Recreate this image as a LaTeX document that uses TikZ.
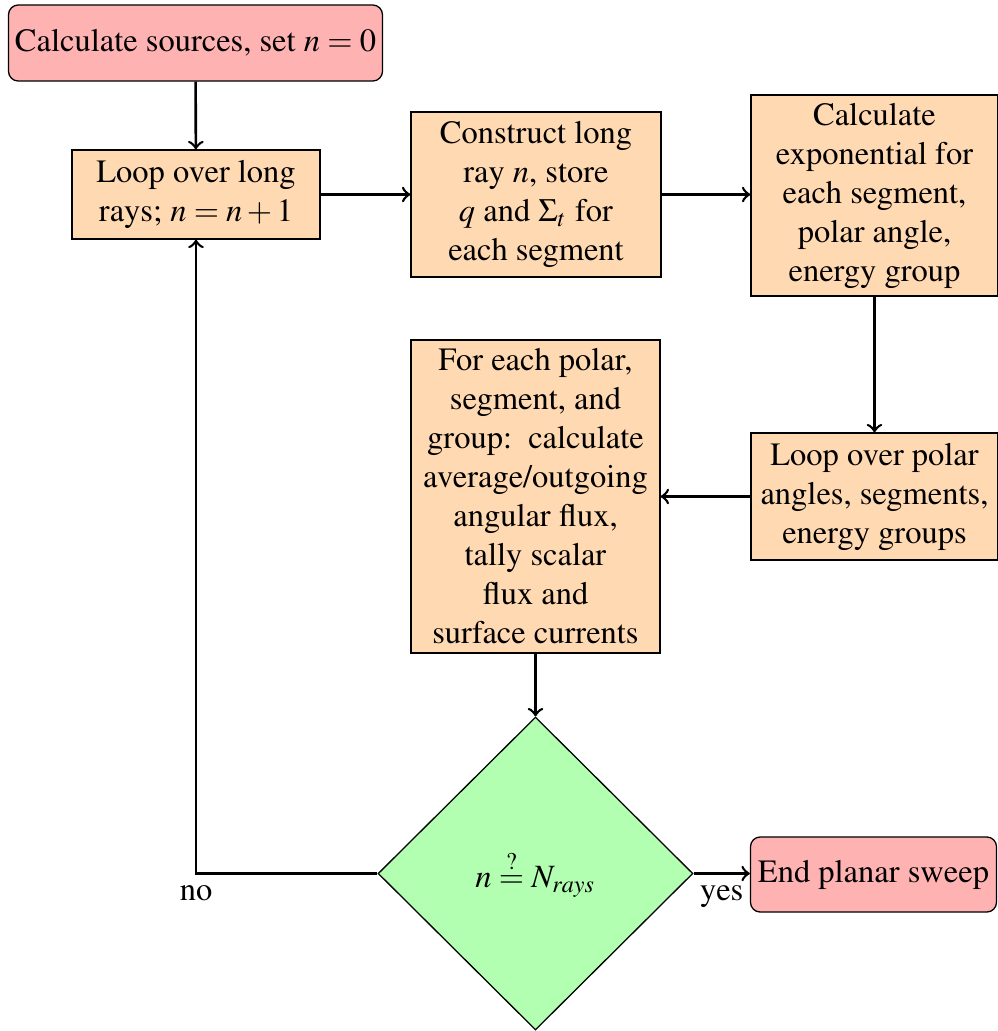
\documentclass[tikz,border=0pt]{standalone}
\usepackage[T1]{fontenc}
\usepackage{mathptmx}
\usetikzlibrary{shapes.geometric}

\tikzset{
  every node/.style={font=\fontsize{10}{12}\selectfont},
  proc/.style={draw, fill=orange!30, align=center, inner xsep=2pt, inner ysep=1pt},
  term/.style={draw, fill=red!30, rounded corners=3pt, align=center, inner sep=2pt},
  decide/.style={draw, diamond, fill=green!30, inner sep=0pt,
                 minimum width=96.9pt, minimum height=96.3pt},
  flow/.style={->, thick},
}

\begin{document}
\begin{tikzpicture}[x=0.307692pt, y=-0.307692pt]
  \path[use as bounding box] (0,0) rectangle (998,1031);

  % steps of the planar sweep
  \node[term, minimum width=114.2pt, minimum height=23.4pt] (start) at (195.5,43)
    {Calculate sources, set $n=0$};
  \node[proc, minimum width=76.3pt, minimum height=27.4pt] (loop) at (196,194.5)
    {Loop over long\\ rays; $n=n+1$};
  \node[proc, minimum width=76.9pt, minimum height=50.8pt] (ray) at (536,194.5)
    {Construct long\\ ray $n$, store\\ $q$ and $\Sigma_t$ for\\ each segment};
  \node[proc, minimum width=76.0pt, minimum height=61.8pt] (expo) at (874.5,195.5)
    {Calculate\\ exponential for\\ each segment,\\ polar angle,\\ energy group};
  \node[proc, minimum width=76.0pt, minimum height=39.1pt] (polar) at (874.5,496.5)
    {Loop over polar\\ angles, segments,\\ energy groups};
  \node[proc, minimum width=76.6pt, minimum height=96.3pt] (tally) at (535.5,496.5)
    {For each polar,\\ segment, and\\ group:\ \ calculate\\ average/outgoing\\ angular flux,\\ tally scalar\\ flux and\\ surface currents};
  \node[decide] (check) at (535.5,873.5)
    {$n \stackrel{?}{=} N_{rays}$};
  \node[term, minimum width=75.7pt, minimum height=23.1pt] (stop) at (873.5,874.5)
    {End planar sweep};

  % connectors
  \draw[flow] (start) -- (loop);
  \draw[flow] (loop) -- (ray);
  \draw[flow] (ray.east) -- (ray.east -| expo.west);
  \draw[flow] (expo) -- (polar);
  \draw[flow] (polar) -- (tally);
  \draw[flow] (tally) -- (check);
  \draw[flow] (check.east) -- node[below] {yes} (check.east -| stop.west);
  \draw[flow] (check.west) -- (check.west -| loop.south) node[below] {no} -- (loop.south);
\end{tikzpicture}
\end{document}
